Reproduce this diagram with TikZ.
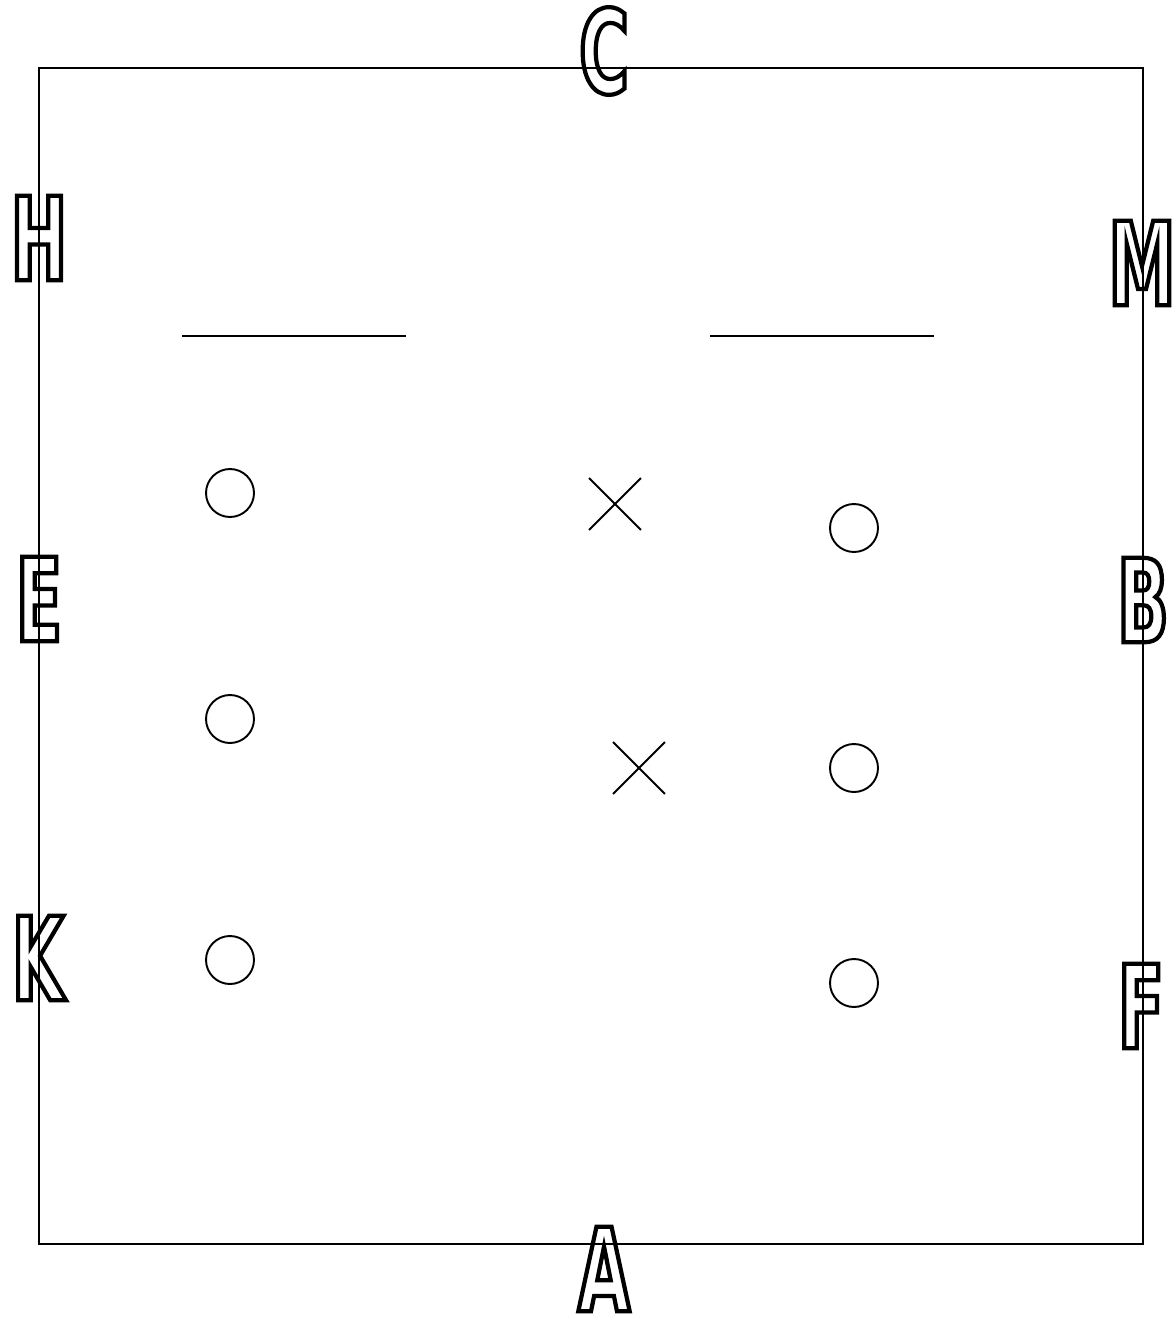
\documentclass[tikz,border=0pt]{standalone}
\usepackage{fontspec}
\usepackage{tikz}
\usetikzlibrary{shapes.misc}
\newfontfamily\arenafont{DejaVu Sans}[FakeStretch=0.58]
% outlined (stroked) glyphs
\newcommand\hollow[1]{\special{pdf:literal direct 1 Tr 2.4 w}#1\special{pdf:literal direct 0 Tr 0.4 w}}

\begin{document}
\begin{tikzpicture}[x=0.02cm, y=-0.02cm, line width=1.1pt,
    letter/.style={font=\arenafont\bfseries\fontsize{66}{66}\selectfont, inner sep=0pt},
    cone/.style={circle, draw, minimum size=0.96cm, inner sep=0pt},
    xmark/.style={cross out, draw, minimum size=1cm, inner sep=0pt}]
    \useasboundingbox (0,0) rectangle (1173,1319);

    % ---- arena
    \draw (39,68) rectangle (1143,1244);
    \coordinate (l1) at (182,336);
    \coordinate (l2) at (406,336);
    \coordinate (r1) at (710,336);
    \coordinate (r2) at (934,336);
    \draw (l1) -- (l2);
    \draw (r1) -- (r2);

    % ---- cones and crosses
    \foreach \i/\y in {1/493, 2/719, 3/960}
      \node[cone] (cl\i) at (230,\y) {};
    \foreach \i/\y in {1/528, 2/768, 3/983}
      \node[cone] (cr\i) at (854,\y) {};
    \node[xmark] (x1) at (615,504) {};
    \node[xmark] (x2) at (639,768) {};

    % ---- letters
    \foreach \lab/\x/\y in {C/604/51, A/604/1269, H/39/238, M/1142/263,
                            E/39/599, B/1143/600, K/38/958, F/1141/1006}
      \node[letter] (\lab) at (\x,\y) {\hollow{\lab}};
  \end{tikzpicture}
\end{document}
